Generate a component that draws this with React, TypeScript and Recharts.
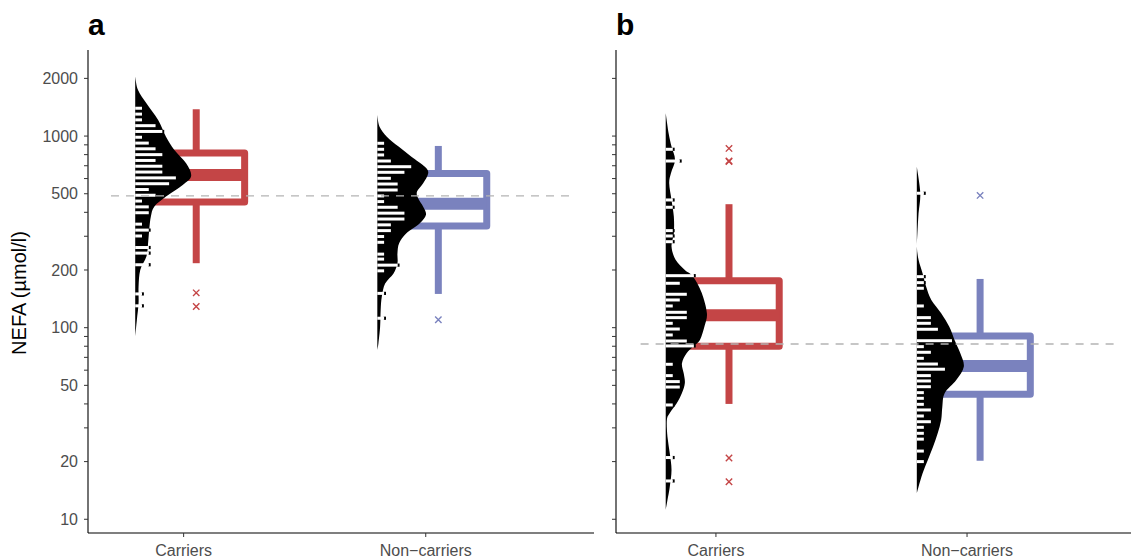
import React from 'react';
import { ComposedChart, Scatter, XAxis, YAxis } from 'recharts';

const GROUPS = ['Carriers', 'Non\u2212carriers'];
const Y_TICKS = [10, 20, 30, 40, 50, 60, 70, 80, 90, 100, 200, 300, 400, 500, 600, 700, 800, 900, 1000, 2000];
const Y_LABELS = [10, 20, 50, 100, 200, 500, 1000, 2000];
const Y_DOMAIN = [8.48, 2813];

const RED = '#C44546';
const BLUE = '#7A82BE';

// panel a, carriers
const aCarrViolinY = [2042, 1740, 1483, 1213, 993, 846, 721, 619, 556, 483, 428, 380, 324, 276, 235, 200, 164, 134, 110, 89.7];
const aCarrViolinD = [0, 0.05, 0.2, 0.41, 0.55, 0.7, 0.91, 1.0, 0.85, 0.55, 0.34, 0.28, 0.25, 0.23, 0.2, 0.09, 0.06, 0.06, 0.03, 0];
const aCarrDotY = [1397, 1302, 1215, 1133, 1057, 986, 919, 858, 800, 746, 696, 649, 605, 564, 526, 491, 458, 427, 398, 347, 323, 301, 262, 245, 213, 150, 130];
const aCarrDotN = [1, 1, 1, 3, 4, 1, 2, 3, 4, 3, 4, 4, 6, 5, 2, 3, 1, 2, 2, 1, 2, 1, 2, 2, 2, 1, 1];
const aCarrBox = [217, 453, 626, 816, 1380]; // whisker low, q1, median, q3, whisker high
const aCarrOut = [152, 129];

// panel a, non-carriers
const aNonViolinY = [1289, 1120, 993, 881, 781, 692, 640, 567, 513, 474, 428, 388, 351, 311, 276, 244, 217, 192, 170, 145, 124, 101, 82.9, 76.5];
const aNonViolinD = [0, 0.04, 0.17, 0.38, 0.61, 0.85, 0.91, 0.82, 0.71, 0.73, 0.82, 0.87, 0.76, 0.52, 0.39, 0.36, 0.36, 0.29, 0.14, 0.08, 0.06, 0.05, 0.02, 0];
const aNonDotY = [917, 853, 797, 741, 692, 647, 602, 562, 523, 487, 455, 425, 396, 369, 344, 321, 299, 279, 242, 228, 212, 198, 151, 112];
const aNonDotN = [1, 1, 1, 2, 5, 4, 2, 3, 3, 1, 1, 3, 4, 4, 2, 2, 1, 1, 1, 1, 3, 1, 1, 1];
const aNonBox = [150, 339, 444, 638, 888];
const aNonOut = [110];

// panel b, carriers
const bCarrViolinY = [1315, 1034, 881, 750, 640, 567, 464, 380, 311, 265, 226, 200, 185, 152, 119, 102, 86.3, 80, 73.5, 65.2, 57.8, 51.5, 45.6, 40.3, 35.9, 33, 27, 22.1, 18.1, 14.8, 12.6, 11.2];
const bCarrViolinD = [0, 0.05, 0.1, 0.16, 0.09, 0.06, 0.1, 0.14, 0.14, 0.1, 0.17, 0.33, 0.47, 0.62, 0.71, 0.67, 0.59, 0.48, 0.36, 0.28, 0.31, 0.33, 0.28, 0.19, 0.07, 0.02, 0.03, 0.07, 0.1, 0.07, 0.03, 0];
const bCarrDotY = [853, 741, 464, 425, 321, 301, 281, 186.8, 170.5, 149.4, 139.5, 129.8, 120.3, 112.8, 105.4, 98.4, 91.6, 85.2, 80.3, 64.4, 56.2, 52.3, 49, 39.5, 21, 15.85];
const bCarrDotN = [1, 2, 1, 1, 1, 1, 1, 4, 2, 3, 2, 1, 3, 3, 1, 2, 1, 3, 4, 1, 1, 2, 2, 1, 1, 1];
const bCarrBox = [40, 80, 116, 175.6, 441];
const bCarrOut = [862, 742, 736, 20.9, 15.7];

// panel b, non-carriers
const bNonViolinY = [692, 503, 395, 311, 265, 226, 192, 164, 139.5, 119, 101, 86.3, 73.5, 62.6, 53.3, 45.5, 38.7, 33, 28.1, 23.9, 20.4, 17.4, 14.8, 13.7];
const bNonViolinD = [0, 0.06, 0.03, 0.01, 0, 0.03, 0.1, 0.16, 0.25, 0.42, 0.56, 0.65, 0.75, 0.81, 0.68, 0.48, 0.44, 0.42, 0.36, 0.28, 0.19, 0.1, 0.03, 0];
const bNonDotY = [503, 184.6, 171.8, 160.6, 129.8, 112.8, 105.4, 98.1, 85.5, 79.6, 74.4, 69.2, 64.6, 60.7, 56.2, 52.7, 49.2, 45.8, 42.8, 39.8, 37.2, 34.6, 32.3, 30.2, 28.1, 26.2, 22.7, 20];
const bNonDotN = [1, 1, 1, 1, 1, 2, 2, 3, 5, 1, 2, 1, 3, 4, 2, 2, 2, 1, 1, 1, 2, 1, 2, 1, 1, 1, 1, 1];
const bNonBox = [20.2, 44.9, 63.1, 90.6, 179.6];
const bNonOut = [490];

const aRef = 487;
const bRef = 82.2;

// layout in x-axis units (categories sit at 1 and 2)
const EDGE = -0.2;
const BOX_SHIFT = 0.052;
const BOX_HALF = 0.2;
const VIOLIN_W = 0.231;
const COUNT_W = 0.028;
const REF_FROM = 0.7;
const REF_TO = 2.6;

const NoDot = () => <g />;

function violinPath(pts) {
  const baseX = Math.min(...pts.map((p) => p.x));
  let d = `M${pts[0].x},${pts[0].y}`;
  for (let i = 0; i < pts.length - 1; i++) {
    const p0 = pts[i - 1] || pts[i];
    const p1 = pts[i];
    const p2 = pts[i + 1];
    const p3 = pts[i + 2] || p2;
    const c1x = Math.max(baseX, p1.x + (p2.x - p0.x) / 6);
    const c1y = p1.y + (p2.y - p0.y) / 6;
    const c2x = Math.max(baseX, p2.x - (p3.x - p1.x) / 6);
    const c2y = p2.y - (p3.y - p1.y) / 6;
    d += ` C${c1x},${c1y} ${c2x},${c2y} ${p2.x},${p2.y}`;
  }
  return d + 'Z';
}

const renderViolin = (props) => <path d={violinPath(props.points)} fill="#000" stroke="none" />;

const renderDots = (props) => {
  const pts = props.points;
  const out = [];
  for (let i = 0; i + 1 < pts.length; i += 2) {
    const a = pts[i];
    const b = pts[i + 1];
    out.push(<rect key={'k' + i} x={b.x - 0.5} y={a.y - 1.6} width={2.4} height={3.2} fill="#000" />);
    out.push(<rect key={'w' + i} x={a.x} y={a.y - 1.5} width={b.x - a.x} height={3} fill="#fff" />);
  }
  return <g>{out}</g>;
};

const boxRenderer = (color) => (props) => {
  const [bl, tr, lo, hi, ml, mr] = props.points;
  return (
    <g>
      <line x1={hi.x} y1={hi.y} x2={hi.x} y2={tr.y} stroke={color} strokeWidth={7} />
      <line x1={lo.x} y1={lo.y} x2={lo.x} y2={bl.y} stroke={color} strokeWidth={7} />
      <rect x={bl.x} y={tr.y} width={tr.x - bl.x} height={bl.y - tr.y} fill="#fff" stroke={color} strokeWidth={7} strokeLinejoin="round" />
      <line x1={ml.x} y1={ml.y} x2={mr.x} y2={mr.y} stroke={color} strokeWidth={12} />
    </g>
  );
};

const crossShape = (color) => (p) => (
  <path d={`M${p.cx - 3.2},${p.cy - 3.2}L${p.cx + 3.2},${p.cy + 3.2}M${p.cx - 3.2},${p.cy + 3.2}L${p.cx + 3.2},${p.cy - 3.2}`} stroke={color} strokeWidth={1.4} fill="none" />
);

const renderRef = (props) => {
  const [a, b] = props.points;
  return <line x1={a.x} y1={a.y} x2={b.x} y2={b.y} stroke="#B4B4B4" strokeWidth={1.3} strokeDasharray="8 7" />;
};

function XTick(p) {
  return (
    <text x={p.x} y={p.y} dy="0.71em" textAnchor="middle" fill="#4D4D4D" fontSize={16}>
      {GROUPS[p.payload.value - 1]}
    </text>
  );
}

function YTick(p) {
  if (!Y_LABELS.includes(p.payload.value)) return <g />;
  return (
    <text x={p.x} y={p.y} dy="0.355em" textAnchor="end" fill="#4D4D4D" fontSize={16}>
      {p.payload.value}
    </text>
  );
}

function makeGroup(pos, violinY, violinD, dotY, dotN, box, outliers, color) {
  const edge = pos + EDGE;
  const c = pos + BOX_SHIFT;
  return {
    key: String(pos),
    color,
    violin: violinY.map((y, i) => ({ x: edge + violinD[i] * VIOLIN_W, y })),
    dots: dotY.flatMap((y, i) => [{ x: edge, y }, { x: edge + dotN[i] * COUNT_W, y }]),
    box: [
      { x: c - BOX_HALF, y: box[1] },
      { x: c + BOX_HALF, y: box[3] },
      { x: c, y: box[0] },
      { x: c, y: box[4] },
      { x: c - BOX_HALF, y: box[2] },
      { x: c + BOX_HALF, y: box[2] },
    ],
    outliers: outliers.map((y) => ({ x: c, y })),
  };
}

const axisLine = { stroke: '#000', strokeWidth: 1.1 };
const tickLine = { stroke: '#333', strokeWidth: 1 };

function Panel({ left, width, right, domain, groups, refY, labels }) {
  return (
    <div style={{ position: 'absolute', left, top: 0 }}>
      <ComposedChart width={width} height={559} margin={{ top: 50, right, bottom: 0, left: 0 }}>
        <XAxis
          type="number"
          dataKey="x"
          domain={domain}
          allowDataOverflow
          ticks={[1, 2]}
          interval={0}
          height={26}
          tickSize={4}
          tickMargin={8}
          axisLine={axisLine}
          tickLine={tickLine}
          tick={XTick}
        />
        <YAxis
          type="number"
          dataKey="y"
          scale="log"
          domain={Y_DOMAIN}
          allowDataOverflow
          ticks={Y_TICKS}
          interval={0}
          width={88}
          tickSize={4}
          tickMargin={6}
          axisLine={axisLine}
          tickLine={tickLine}
          tick={labels ? YTick : NoDot}
        />
        {groups.map((g) => (
          <React.Fragment key={g.key}>
            <Scatter data={g.box} shape={NoDot} line={boxRenderer(g.color)} isAnimationActive={false} />
            <Scatter data={g.violin} shape={NoDot} line={renderViolin} isAnimationActive={false} />
            <Scatter data={g.dots} shape={NoDot} line={renderDots} isAnimationActive={false} />
            <Scatter data={g.outliers} shape={crossShape(g.color)} isAnimationActive={false} />
          </React.Fragment>
        ))}
        <Scatter
          data={[{ x: REF_FROM, y: refY }, { x: REF_TO, y: refY }]}
          shape={NoDot}
          line={renderRef}
          isAnimationActive={false}
        />
      </ComposedChart>
    </div>
  );
}

export default function App() {
  const panelA = [
    makeGroup(1, aCarrViolinY, aCarrViolinD, aCarrDotY, aCarrDotN, aCarrBox, aCarrOut, RED),
    makeGroup(2, aNonViolinY, aNonViolinD, aNonDotY, aNonDotN, aNonBox, aNonOut, BLUE),
  ];
  const panelB = [
    makeGroup(1, bCarrViolinY, bCarrViolinD, bCarrDotY, bCarrDotN, bCarrBox, bCarrOut, RED),
    makeGroup(2, bNonViolinY, bNonViolinD, bNonDotY, bNonDotN, bNonBox, bNonOut, BLUE),
  ];
  return (
    <div
      style={{
        position: 'absolute',
        left: 0,
        top: 0,
        width: 1131,
        height: 559,
        background: '#fff',
        overflow: 'hidden',
        fontFamily: '"Liberation Sans", Arial, Helvetica, sans-serif',
      }}
    >
      <Panel left={0} width={600} right={6} domain={[0.605, 2.695]} groups={panelA} refY={aRef} labels />
      <Panel left={528} width={603} right={0} domain={[0.602, 2.653]} groups={panelB} refY={bRef} labels={false} />
      <svg width={1131} height={559} style={{ position: 'absolute', left: 0, top: 0, pointerEvents: 'none' }}>
        <text x={88} y={35} fontSize={30} fontWeight="bold" fill="#000">a</text>
        <text x={616} y={35} fontSize={30} fontWeight="bold" fill="#000">b</text>
        <text x={26} y={293} fontSize={20} fill="#000" textAnchor="middle" transform="rotate(-90 26 293)">
          NEFA (µmol/l)
        </text>
      </svg>
    </div>
  );
}
